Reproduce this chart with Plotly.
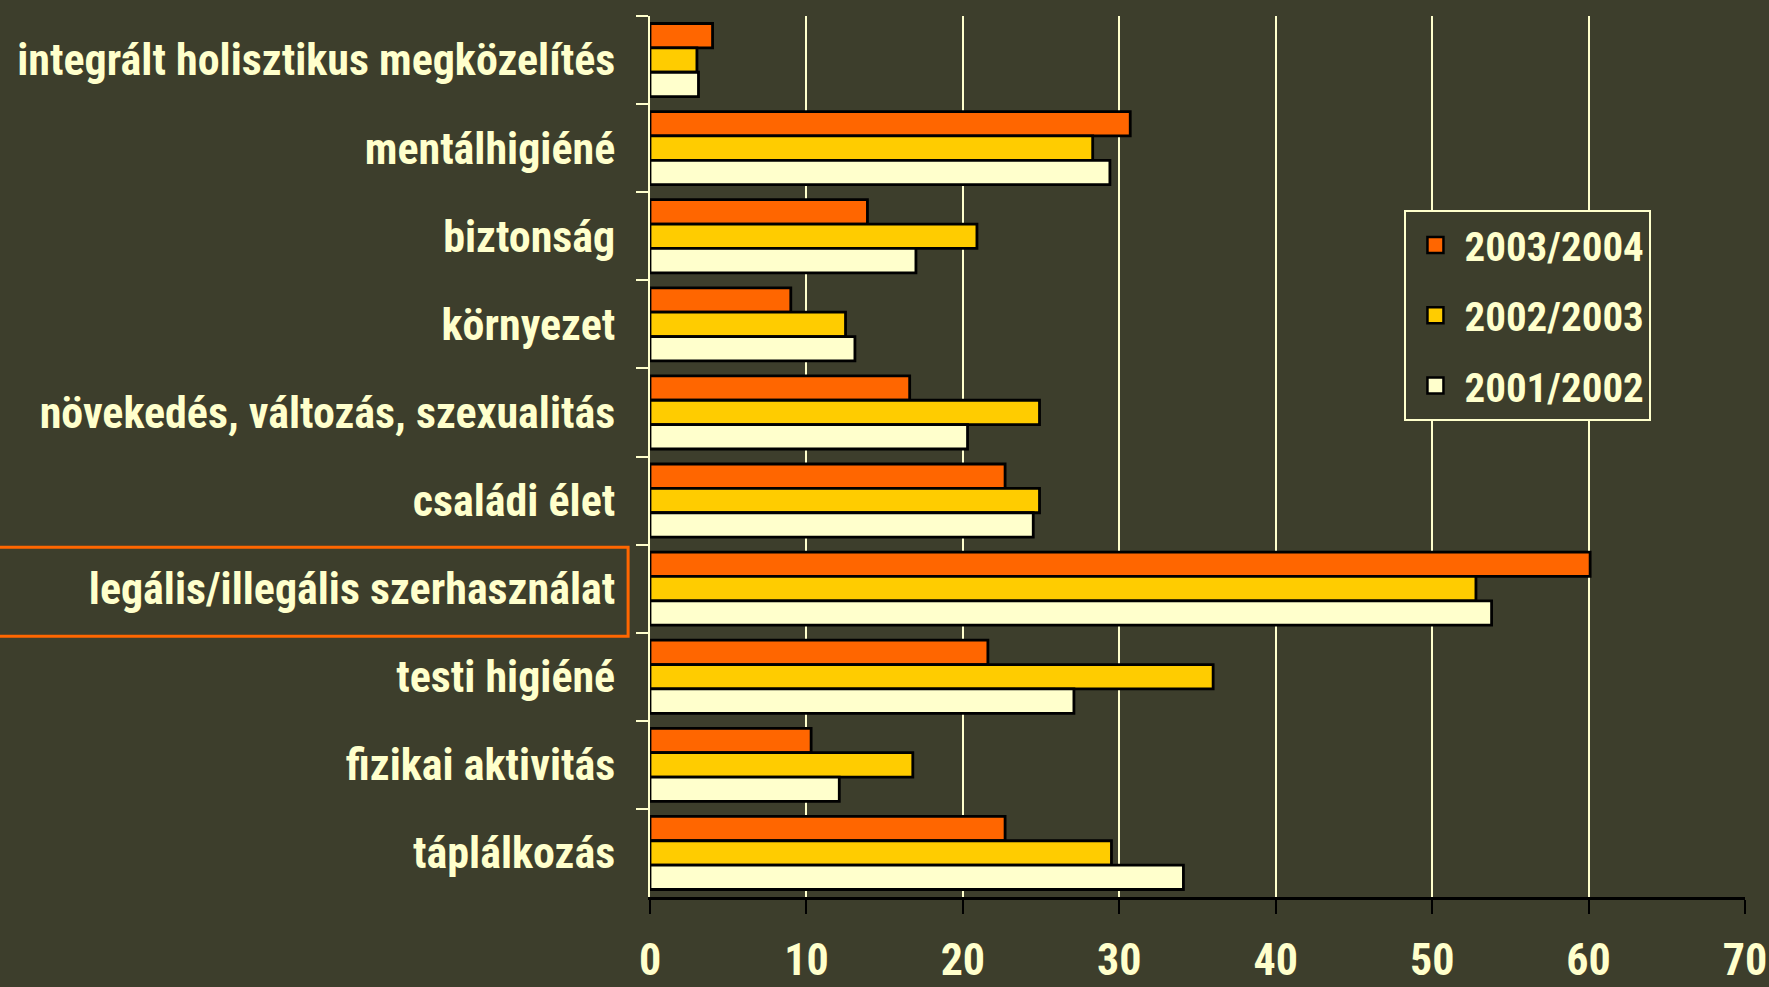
import plotly.graph_objects as go

categories = [
    "integrált holisztikus megközelítés",
    "mentálhigiéné",
    "biztonság",
    "környezet",
    "növekedés, változás, szexualitás",
    "családi élet",
    "legális/illegális szerhasználat",
    "testi higiéné",
    "fizikai aktivitás",
    "táplálkozás",
]
series_names = ["2003/2004", "2002/2003", "2001/2002"]
v_2003_2004 = [4.0, 30.7, 13.9, 9.0, 16.6, 22.7, 60.1, 21.6, 10.3, 22.7]
v_2002_2003 = [3.0, 28.3, 20.9, 12.5, 24.9, 24.9, 52.8, 36.0, 16.8, 29.5]
v_2001_2002 = [3.1, 29.4, 17.0, 13.1, 20.3, 24.5, 53.8, 27.1, 12.1, 34.1]
colors = ["#ff6600", "#ffcc00", "#ffffcc"]
highlight = "legális/illegális szerhasználat"

BG = "#3d3e2c"
CREAM = "#ffffcc"
FONT = "Roboto Condensed"

fig = go.Figure()
for name, vals, col in zip(series_names, [v_2003_2004, v_2002_2003, v_2001_2002], colors):
    fig.add_trace(go.Bar(
        y=categories, x=vals, name=name, orientation="h", showlegend=False,
        marker=dict(color=col, line=dict(color="black", width=2.8)),
    ))
# legend entries with larger square swatches
for name, col in zip(series_names, colors):
    fig.add_trace(go.Scatter(
        x=[None], y=[None], mode="markers", name=name, legendgroup=name,
        marker=dict(symbol="square", size=23, color=col, line=dict(color="black", width=2.5)),
    ))

hi = categories.index(highlight)
fig.add_shape(type="rect", xref="paper", yref="y",
              x0=-0.6, x1=-0.02, y0=hi - 0.47, y1=hi + 0.54,
              line=dict(color="#ff6600", width=3), fillcolor="rgba(0,0,0,0)",
              layer="above")

fig.update_layout(
    width=1769, height=987,
    paper_bgcolor=BG, plot_bgcolor=BG,
    margin=dict(l=650, r=24, t=16, b=90, autoexpand=False),
    barmode="group", bargap=0.17, bargroupgap=0,
    font=dict(family=FONT, color=CREAM, size=40, weight="bold"),
    showlegend=True,
    legend=dict(
        x=0.689, y=0.78, xanchor="left", yanchor="top",
        bgcolor=BG, bordercolor=CREAM, borderwidth=2,
        font=dict(family=FONT, size=41, color=CREAM, weight="bold"),
        traceorder="grouped", itemsizing="trace", tracegroupgap=14,
        itemwidth=48,
    ),
    xaxis=dict(
        range=[0, 70], tick0=0, dtick=10, automargin=False,
        showgrid=True, gridcolor=CREAM, gridwidth=2,
        showline=True, linecolor="black", linewidth=3,
        ticks="outside", ticklen=14, tickwidth=2, tickcolor="black",
        tickfont=dict(family=FONT, size=44, color=CREAM, weight="bold"),
        ticklabelstandoff=8, zeroline=False,
    ),
    yaxis=dict(
        autorange="reversed", type="category", automargin=False,
        showline=True, linecolor=CREAM, linewidth=2,
        ticks="outside", ticklen=12, tickwidth=2, tickcolor=CREAM,
        tickson="boundaries",
        tickfont=dict(family=FONT, size=44, color=CREAM, weight="bold"),
        ticklabelstandoff=24, showgrid=False,
    ),
)

fig.write_html(
    "out.html",
    config={"displayModeBar": False},
    post_script="document.body.style.margin='0';document.body.style.overflow='hidden';document.documentElement.style.overflow='hidden';",
)
